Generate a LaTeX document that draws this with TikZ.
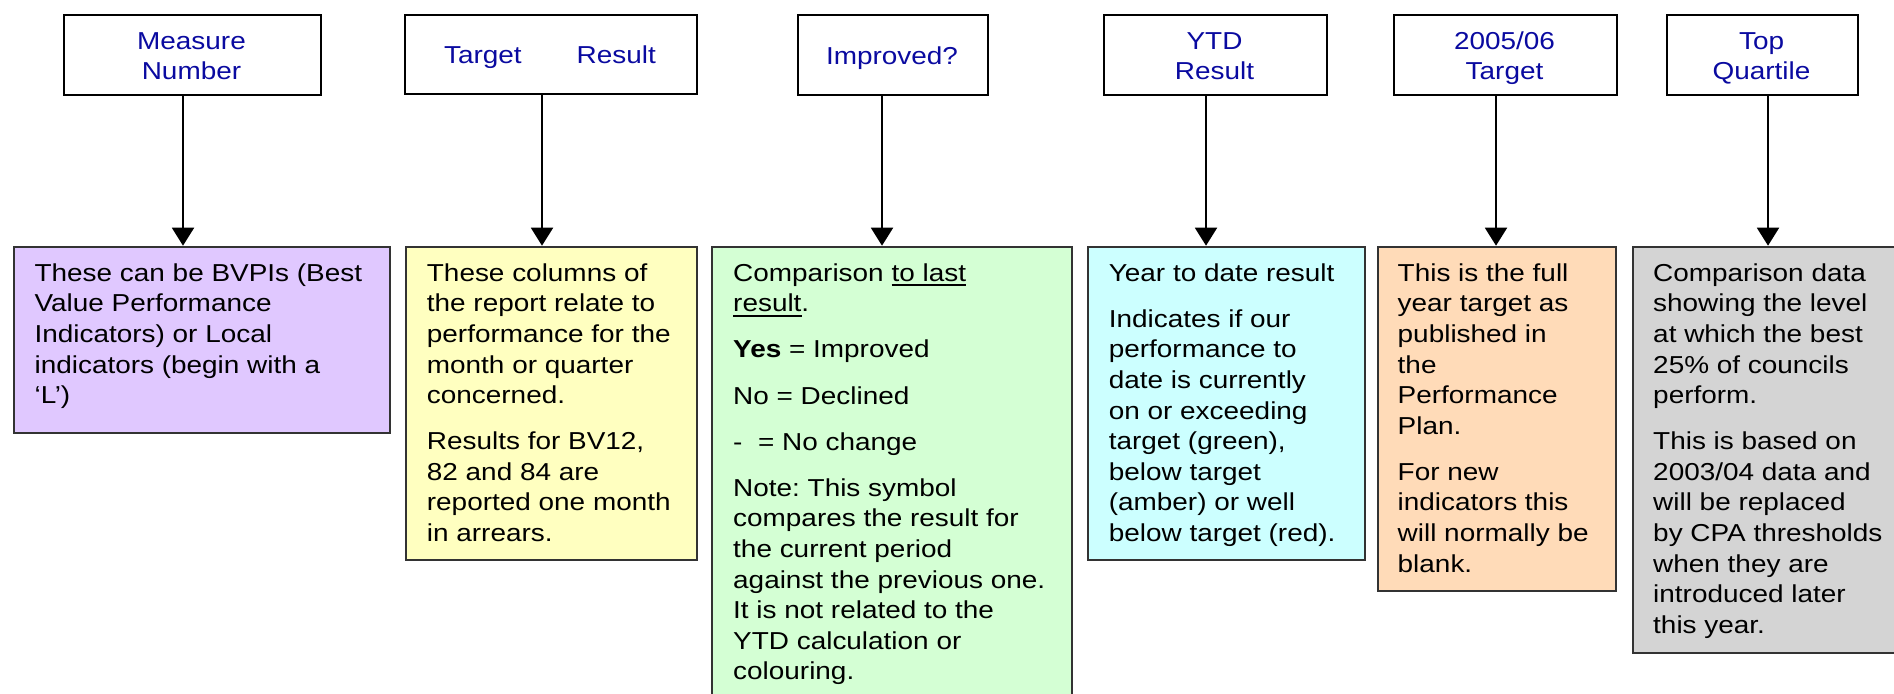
\documentclass[tikz,border=0pt]{standalone}
\usepackage{fontspec}
\setmainfont[FakeStretch=1.14]{Liberation Sans}
\usetikzlibrary{arrows.meta}
\definecolor{navytext}{RGB}{10,10,160}
\definecolor{fpurple}{RGB}{224,200,255}
\definecolor{fyellow}{RGB}{255,255,192}
\definecolor{fgreen}{RGB}{212,255,212}
\definecolor{fcyan}{RGB}{204,255,255}
\definecolor{forange}{RGB}{255,219,184}
\definecolor{fgray}{RGB}{212,212,212}
\newcommand\mystrut{\rule{0pt}{20pt}}
\newcommand\myul[1]{\setbox0\hbox{#1}\rlap{\rule[-5pt]{\wd0}{2pt}}\box0}
\frenchspacing
\begin{document}
\begin{tikzpicture}[x=1pt,y=-1pt,
  tbox/.style={draw=black, line width=2pt, inner sep=0, anchor=north west},
  bbox/.style={draw=black!80, line width=2pt, inner sep=0, anchor=north west},
  ttext/.style={font=\fontsize{24.5}{30}\selectfont\frenchspacing, text=navytext, align=center, inner sep=0},
  btext/.style={font=\fontsize{24.5}{30.6}\selectfont\frenchspacing, align=left, inner sep=0, anchor=north west},
  arr/.style={line width=2pt, -{Triangle[width=22pt,length=18pt]}}]
\useasboundingbox (0,0) rectangle (1894,693);
\clip (0,0) rectangle (1894,693);
% top boxes
\node[tbox, minimum width=257pt, minimum height=80pt] (b1) at (63,14) {};
\node[tbox, minimum width=292pt, minimum height=79pt] (b2) at (404,14) {};
\node[tbox, minimum width=190pt, minimum height=80pt] (b3) at (797,14) {};
\node[tbox, minimum width=223pt, minimum height=80pt] (b4) at (1103,14) {};
\node[tbox, minimum width=223pt, minimum height=80pt] (b5) at (1393,14) {};
\node[tbox, minimum width=191pt, minimum height=80pt] (b6) at (1666,14) {};
% top texts
\node[ttext, anchor=north] (t1) at (191.5,29) {\mystrut Measure\\Number};
\node[ttext, anchor=base] (t2) at (550,63.5) {Target\hspace{55pt}Result};
\node[ttext, anchor=base] (t3) at (892,64) {Improved?};
\node[ttext, anchor=north] (t4) at (1214.5,29) {\mystrut YTD\\Result};
\node[ttext, anchor=north] (t5) at (1504.5,29) {\mystrut 2005/06\\Target};
\node[ttext, anchor=north] (t6) at (1761.5,29) {\mystrut Top\\Quartile};
% bottom boxes
\node[bbox, fill=fpurple, minimum width=376.4pt, minimum height=186pt] (p1) at (12.6,245.7) {};
\node[bbox, fill=fyellow, minimum width=290.5pt, minimum height=313.3pt] (p2) at (405,245.7) {};
\node[bbox, fill=fgreen, minimum width=359.5pt, minimum height=470pt] (p3) at (711,245.7) {};
\node[bbox, fill=fcyan, minimum width=277.5pt, minimum height=313.3pt] (p4) at (1086.5,245.7) {};
\node[bbox, fill=forange, minimum width=238.4pt, minimum height=344.3pt] (p5) at (1376.6,245.7) {};
\node[bbox, fill=fgray, minimum width=290pt, minimum height=406.3pt] (p6) at (1631.5,245.7) {};
% bottom texts
\node[btext] (q1) at (34.4,261) {\mystrut These can be BVPIs (Best\\Value Performance\\Indicators) or Local\\indicators (begin with a\\‘L’)};
\node[btext] (q2) at (426.7,261) {\mystrut These columns of\\the report relate to\\performance for the\\month or quarter\\concerned.\\[15.5pt]Results for BV12,\\82 and 84 are\\reported one month\\in arrears.};
\node[btext] (q3) at (733,261) {\mystrut Comparison \myul{to last}\\\myul{result}.\\[15.5pt]\textbf{Yes} = Improved\\[15.5pt]No = Declined\\[15.5pt]-\ \ = No change\\[15.5pt]Note: This symbol\\compares the result for\\the current period\\against the previous one.\\It is not related to the\\YTD calculation or\\colouring.};
\node[btext] (q4) at (1108.6,261) {\mystrut Year to date result\\[15.5pt]Indicates if our\\performance to\\date is currently\\on or exceeding\\target (green),\\below target\\(amber) or well\\below target (red).};
\node[btext] (q5) at (1397.5,261) {\mystrut This is the full\\year target as\\published in\\the\\Performance\\Plan.\\[15.5pt]For new\\indicators this\\will normally be\\blank.};
\node[btext] (q6) at (1653,261) {\mystrut Comparison data\\showing the level\\at which the best\\25\% of councils\\perform.\\[15.5pt]This is based on\\2003/04 data and\\will be replaced\\by CPA thresholds\\when they are\\introduced later\\this year.};
% arrow x positions
\coordinate (a1) at (183,0);
\coordinate (a2) at (542,0);
\coordinate (a3) at (882,0);
\coordinate (a4) at (1206,0);
\coordinate (a5) at (1496,0);
\coordinate (a6) at (1768,0);
\draw[arr] (a1 |- b1.south) -- (a1 |- p1.north);
\draw[arr] (a2 |- b2.south) -- (a2 |- p2.north);
\draw[arr] (a3 |- b3.south) -- (a3 |- p3.north);
\draw[arr] (a4 |- b4.south) -- (a4 |- p4.north);
\draw[arr] (a5 |- b5.south) -- (a5 |- p5.north);
\draw[arr] (a6 |- b6.south) -- (a6 |- p6.north);
\end{tikzpicture}
\end{document}
